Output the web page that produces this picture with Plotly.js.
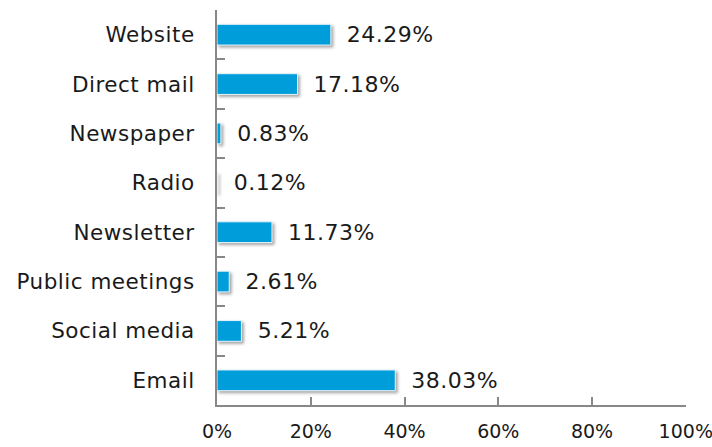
<!DOCTYPE html>
<html><head><meta charset="utf-8">
<script src="https://cdn.plot.ly/plotly-3.0.1.min.js"></script>
<style>
html,body{margin:0;padding:0;background:#fff}
#chart .bars .point path{filter: drop-shadow(2px 2px 1.5px rgba(0,0,0,0.35));}
#chart text{letter-spacing:0.5px;}
#chart .xtick text{letter-spacing:0px;}
</style>
</head><body>
<div id="chart" style="width:712px;height:447px"></div>
<script>
const categories = ["Email", "Social media", "Public meetings", "Newsletter", "Radio", "Newspaper", "Direct mail", "Website"];
const values = [38.03, 5.21, 2.61, 11.73, 0.12, 0.83, 17.18, 24.29];
const tickVals = [0, 20, 40, 60, 80, 100];
const tickText = ["0%", "20%", "40%", "60%", "80%", "100%"];

const fontFam = "'DejaVu Sans', sans-serif";
const fs = 21.5;
const bars = {
  type: 'bar', orientation: 'h',
  y: categories, x: values,
  width: 0.42,
  marker: {color: '#009ddb', line: {color: '#e8f4fa', width: 1}},
  text: values.map(v => '\u00a0\u00a0' + v.toFixed(2) + '%'),
  textposition: 'outside',
  constraintext: 'none',
  cliponaxis: false,
  textfont: {family: fontFam, size: 22, color: '#1a1a1a'},
  hoverinfo: 'none'
};
const layout = {
  width: 712, height: 447,
  margin: {l: 217, r: 26, t: 10, b: 42},
  paper_bgcolor: '#fff', plot_bgcolor: '#fff',
  showlegend: false,
  font: {family: fontFam, size: fs, color: '#1a1a1a'},
  xaxis: {
    range: [0, 100.05], tickvals: tickVals, ticktext: tickText,
    showgrid: false, zeroline: false,
    showline: true, linecolor: '#888', linewidth: 2,
    ticks: 'inside', ticklen: 8, tickcolor: '#888', tickwidth: 2,
    tickfont: {family: fontFam, size: 19, color: '#1a1a1a'},
    ticklabelstandoff: 8, ticklabeloverflow: 'allow', fixedrange: true
  },
  yaxis: {
    type: 'category', showgrid: false, zeroline: false,
    showline: true, linecolor: '#888', linewidth: 2,
    ticks: 'inside', tickson: 'boundaries', ticklen: 8, tickcolor: '#888', tickwidth: 2,
    tickfont: {family: fontFam, size: fs, color: '#1a1a1a'},
    ticklabelstandoff: 16, fixedrange: true
  }
};
Plotly.newPlot('chart', [bars], layout, {displayModeBar: false, staticPlot: true});
</script>
</body></html>
